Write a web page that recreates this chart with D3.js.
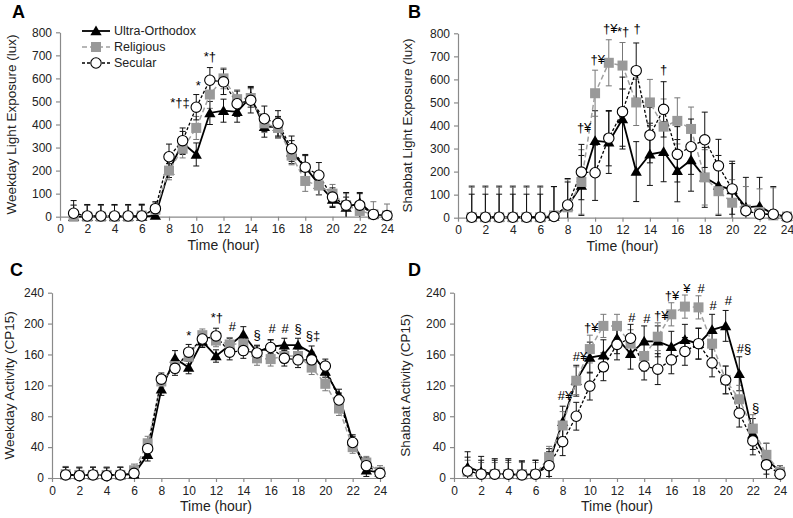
<!DOCTYPE html>
<html><head><meta charset="utf-8">
<script src="https://cdn.jsdelivr.net/npm/d3@7"></script>
<style>body{margin:0;background:#fff;} text{font-family:"Liberation Sans",Arial,sans-serif;}</style>
</head><body>
<svg id="c" width="793" height="518"></svg>
<script>
const hours = d3.range(1, 25);
const xTicks = d3.range(0, 25, 2);
const lightTicks = d3.range(0, 801, 100);
const actTicks = d3.range(0, 241, 40);
const seriesNames = ["Ultra-Orthodox", "Religious", "Secular"];

// Panel A: weekday light (lux)
const aUltra = [0,0,0,0,0,0,5,200,320,270,450,460,455,520,390,390,280,215,140,75,40,60,10,5];
const aRelig = [0,0,0,0,0,5,30,200,295,385,530,600,510,515,405,385,265,155,135,100,50,25,10,5];
const aSecul = [15,3,3,3,3,3,35,260,330,475,592,585,490,505,425,405,295,215,180,85,50,50,10,5];
const aUltraErr = [50,50,50,50,50,50,20,30,50,50,50,50,45,45,45,45,50,50,45,35,45,40,10,5];
const aReligErr = [50,50,50,50,50,50,30,40,40,50,60,45,40,40,40,45,40,45,40,40,50,40,55,50];
const aSeculErr = [55,50,50,50,50,50,30,55,55,55,55,55,55,55,55,55,55,55,55,40,55,55,10,5];

// Panel B: shabbat light (lux)
const bUltra = [2,2,2,2,2,2,5,50,140,334,327,428,200,275,286,204,250,175,140,120,45,50,15,5];
const bRelig = [2,2,2,2,2,2,10,45,155,540,672,660,500,500,395,420,385,175,115,65,35,25,10,5];
const bSecul = [2,2,2,2,2,2,5,55,198,195,345,460,638,358,470,275,308,338,225,125,30,15,15,3];
const bUltraErr = [135,135,135,135,135,135,130,120,130,130,135,130,130,135,130,135,135,130,130,125,130,125,120,5];
const bReligErr = [130,130,130,130,130,130,0,120,140,100,100,100,100,100,120,100,95,120,100,100,100,100,120,0];
const bSeculErr = [100,100,100,100,100,100,130,100,120,120,120,150,120,120,120,120,120,120,115,110,20,20,20,5];

// Panel C: weekday activity (CP15)
const cUltra = [4,4,4,4,4,5,30,115,155,143,177,158,172,186,163,170,172,172,162,138,107,48,10,7];
const cRelig = [5,4,4,4,4,10,45,125,145,157,185,178,173,174,155,154,158,158,143,122,90,40,20,8];
const cSecul = [4,3,4,3,4,6,38,128,142,163,180,184,163,165,162,169,155,153,153,145,101,46,16,6];
const cUltraErr = [10,10,10,10,10,8,8,8,10,8,8,8,9,10,9,9,9,9,9,8,8,8,8,6];
const cReligErr = [10,10,10,10,10,8,9,8,9,9,8,8,9,9,9,9,9,9,9,9,9,8,8,8];
const cSeculErr = [10,10,10,10,10,8,8,8,9,10,9,10,10,10,9,10,10,10,10,9,9,8,10,7];

// Panel D: shabbat activity (CP15)
const dUltra = [14,8,5,5,4,5,20,73,126,156,159,181,161,177,177,170,179,174,192,197,135,57,25,8];
const dRelig = [8,5,5,5,5,5,27,68,126,167,197,197,174,158,183,212,222,221,174,127,102,64,30,8];
const dSecul = [9,5,5,5,4,5,16,47,80,119,144,173,181,145,141,153,164,174,149,127,84,48,17,5];
const dUltraErr = [20,20,20,20,18,18,18,20,20,20,20,20,20,20,20,20,20,20,20,20,22,20,20,8];
const dReligErr = [15,15,15,15,15,15,14,18,18,18,15,15,18,20,18,15,15,15,18,18,18,18,15,8];
const dSeculErr = [18,18,18,18,18,18,18,18,18,18,18,20,18,18,20,18,18,20,18,18,18,18,18,6];

// significance annotations: [hour, value, label]
const aNotes = [[8.8,494,"*†‡"],[10.15,568,"*"],[11.0,694,"*†"]];
const bNotes = [[9.2,393,"†¥"],[10.2,688,"†¥"],[11.1,819,"†¥"],[12.05,806,"*†"],[13.07,819,"†"],[15.0,645,"†"]];
const cNotes = [[10.0,184,"*"],[12.07,208,"*†"],[13.2,196,"#"],[15.0,186,"§"],[16.1,194,"#"],[17.05,194,"#"],[18.0,194,"§"],[19.1,185,"§‡"]];
const dNotes = [[8.17,107,"#¥"],[9.28,158,"#¥"],[10.1,195,"†¥"],[13.1,208,"#"],[14.2,207,"#"],[15.25,211,"†¥"],[16.05,237,"†¥"],[17.15,246,"¥"],[18.2,246,"#"],[19.07,223,"#"],[20.2,230,"#"],[21.35,168,"#§"],[22.2,92,"§"]];

const svg = d3.select("#c");
const GRAY = "#a0a0a0", AX = "#8a8a8a";

function panel(cfg) {
  const x = d3.scaleLinear().domain([0, 24]).range([cfg.l, cfg.r]);
  const y = d3.scaleLinear().domain([0, cfg.ymax]).range([cfg.b, cfg.t]);
  const g = svg.append("g");
  const xa = g.append("g").attr("transform", `translate(0,${cfg.b})`)
    .call(d3.axisBottom(x).tickValues(xTicks).tickSize(4).tickPadding(4).tickSizeOuter(0));
  const ya = g.append("g").attr("transform", `translate(${cfg.l},0)`)
    .call(d3.axisLeft(y).tickValues(cfg.yticks).tickSize(4).tickPadding(4).tickSizeOuter(0));
  [xa, ya].forEach(a => {
    a.selectAll("path,line").attr("stroke", AX).attr("stroke-width", 1.2);
    a.selectAll("text").attr("font-size", 12).attr("fill", "#222").attr("font-family", "Liberation Sans, Arial, sans-serif");
  });
  g.append("text").attr("x", (cfg.l + cfg.r) / 2).attr("y", cfg.b + 33).attr("text-anchor", "middle")
    .attr("font-size", 14).attr("fill", "#222").text("Time (hour)");
  g.append("text").attr("transform", `translate(${cfg.yt},${(cfg.t + cfg.b) / 2}) rotate(-90)`)
    .attr("text-anchor", "middle").attr("font-size", 13.5).attr("fill", "#222").text(cfg.ytitle);
  g.append("text").attr("x", cfg.lx).attr("y", cfg.ly).attr("font-size", 18).attr("font-weight", "bold").text(cfg.letter);

  const series = [
    {v: cfg.data[0], e: cfg.err[0], color: "#000", dash: null, w: 1.8, mark: "tri", ecol: "#111"},
    {v: cfg.data[1], e: cfg.err[1], color: GRAY, dash: "5,3", w: 1.5, mark: "sq", ecol: "#777"},
    {v: cfg.data[2], e: cfg.err[2], color: "#000", dash: "3,2", w: 1.3, mark: "circ", ecol: "#111"}
  ];
  series.forEach(s => {
    const eg = g.append("g").attr("stroke", s.ecol).attr("stroke-width", 1);
    hours.forEach((h, i) => {
      if (!s.e[i]) return;
      const hi = y(Math.min(cfg.ymax, s.v[i] + s.e[i])), lo = y(Math.max(0, s.v[i] - s.e[i]));
      eg.append("line").attr("x1", x(h)).attr("x2", x(h)).attr("y1", hi).attr("y2", lo);
      eg.append("line").attr("x1", x(h) - 3).attr("x2", x(h) + 3).attr("y1", hi).attr("y2", hi);
      if (s.v[i] - s.e[i] > 0) eg.append("line").attr("x1", x(h) - 3).attr("x2", x(h) + 3).attr("y1", lo).attr("y2", lo);
    });
  });
  const line = d3.line().x((d, i) => x(hours[i])).y(d => y(d));
  series.forEach(s => {
    g.append("path").datum(s.v).attr("d", line).attr("fill", "none").attr("stroke", s.color)
      .attr("stroke-width", s.w).attr("stroke-dasharray", s.dash);
  });
  series.forEach(s => {
    const mg = g.append("g");
    s.v.forEach((v, i) => drawMark(mg, s.mark, x(hours[i]), y(v)));
  });
  cfg.notes.forEach(n => {
    g.append("text").attr("x", x(n[0])).attr("y", y(n[1])).attr("dy", "0.35em").attr("text-anchor", "middle")
      .attr("font-size", 13).attr("fill", "#000").attr("font-family", "DejaVu Sans, sans-serif").text(n[2]);
  });
}

function drawMark(g, type, cx, cy) {
  if (type === "tri") {
    g.append("path").attr("d", d3.symbol().type(d3.symbolTriangle).size(55)()).attr("transform", `translate(${cx},${cy + 1})`).attr("fill", "#000");
  } else if (type === "sq") {
    g.append("rect").attr("x", cx - 5).attr("y", cy - 5).attr("width", 10).attr("height", 10).attr("fill", "#999");
  } else {
    g.append("circle").attr("cx", cx).attr("cy", cy).attr("r", 5.2).attr("fill", "#fff").attr("stroke", "#000").attr("stroke-width", 1.1);
  }
}

panel({l: 60, r: 387, t: 32.3, b: 216.7, ymax: 800, yticks: lightTicks, ytitle: "Weekday Light Exposure (lux)", yt: 16, letter: "A", lx: 12, ly: 18,
  data: [aUltra, aRelig, aSecul], err: [aUltraErr, aReligErr, aSeculErr], notes: aNotes});
panel({l: 458, r: 787, t: 33.3, b: 217.7, ymax: 800, yticks: lightTicks, ytitle: "Shabbat Light Exposure (lux)", yt: 412, letter: "B", lx: 408, ly: 18,
  data: [bUltra, bRelig, bSecul], err: [bUltraErr, bReligErr, bSeculErr], notes: bNotes});
panel({l: 52, r: 380, t: 292.7, b: 478, ymax: 240, yticks: actTicks, ytitle: "Weekday Activity (CP15)", yt: 14, letter: "C", lx: 10, ly: 276,
  data: [cUltra, cRelig, cSecul], err: [cUltraErr, cReligErr, cSeculErr], notes: cNotes});
panel({l: 454, r: 780, t: 292.7, b: 478, ymax: 240, yticks: actTicks, ytitle: "Shabbat Activity (CP15)", yt: 410, letter: "D", lx: 408, ly: 276,
  data: [dUltra, dRelig, dSecul], err: [dUltraErr, dReligErr, dSeculErr], notes: dNotes});

const leg = svg.append("g");
const legStyles = [
  {color: "#000", dash: null, w: 1.8, mark: "tri"},
  {color: GRAY, dash: "5,3", w: 1.5, mark: "sq"},
  {color: "#000", dash: "3,2", w: 1.3, mark: "circ"}
];
seriesNames.forEach((nm, i) => {
  const yy = 31 + i * 16;
  const st = legStyles[i];
  leg.append("line").attr("x1", 82).attr("x2", 110).attr("y1", yy).attr("y2", yy).attr("stroke", st.color)
    .attr("stroke-width", st.w).attr("stroke-dasharray", st.dash);
  drawMark(leg, st.mark, 96, yy);
  leg.append("text").attr("x", 114).attr("y", yy).attr("dy", "0.35em").attr("font-size", 12.5).attr("fill", "#222").text(nm);
});
</script>
</body></html>
